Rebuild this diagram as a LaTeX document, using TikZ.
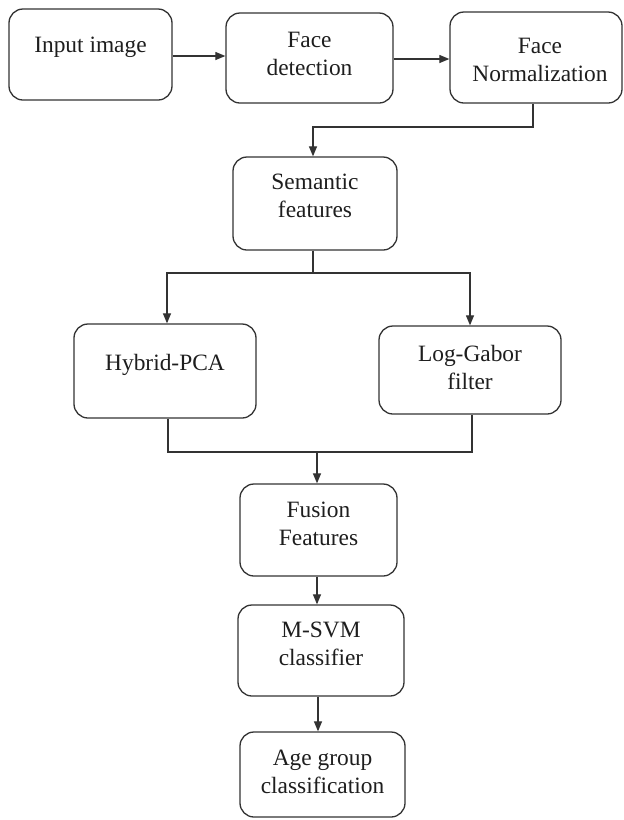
\documentclass[tikz,border=0pt]{standalone}
\usepackage{fontspec}
\setmainfont{LiberationSerif-Regular.ttf}
\newfontfamily\boxfont{LiberationSerif-Regular.ttf}
\usetikzlibrary{arrows.meta}
\definecolor{linec}{HTML}{333333}
\definecolor{textc}{HTML}{1E1E1E}
\begin{document}
\begin{tikzpicture}[x=1pt,y=-1pt,
  box/.style={draw=linec, line width=1.3pt, rounded corners=14pt, inner sep=0pt, fill=white},
  lbl/.style={font=\boxfont\fontsize{23.4}{28}\selectfont, align=center, text=textc, inner sep=0pt},
  conn/.style={draw=linec, line width=1.2pt},
  arr/.style={conn, -{Triangle[length=10pt,width=8pt]}}]
\useasboundingbox[fill=white] (0,0) rectangle (624,820);

% boxes
\node[box, minimum width=163pt, minimum height=91pt] (in)  at (90.5,54.5) {};
\node[box, minimum width=167pt, minimum height=90pt] (fd)  at (309.5,58) {};
\node[box, minimum width=172pt, minimum height=91pt] (fn)  at (536,57.5) {};
\node[box, minimum width=164pt, minimum height=93pt] (sem) at (315,203.5) {};
\node[box, minimum width=182pt, minimum height=94pt] (hy)  at (165,371) {};
\node[box, minimum width=182pt, minimum height=88pt] (lg)  at (470,370) {};
\node[box, minimum width=157pt, minimum height=92pt] (fu)  at (318.5,530) {};
\node[box, minimum width=166pt, minimum height=91pt] (ms)  at (321,650.5) {};
\node[box, minimum width=165pt, minimum height=85pt] (age) at (322.5,774.5) {};

% labels
\node[lbl] (tin)  at (90.5,47)   {Input image};
\node[lbl] (tfd)  at (309.5,53.5) {Face\\detection};
\node[lbl] (tfn)  at (540,60)    {Face\\Normalization};
\node[lbl] (tsem) at (315,196)   {Semantic\\features};
\node[lbl] (thy)  at (165,365)   {Hybrid-PCA};
\node[lbl] (tlg)  at (470,367)   {Log-Gabor\\filter};
\node[lbl] (tfu)  at (318.5,524) {Fusion\\Features};
\node[lbl] (tms)  at (321,644)   {M-SVM\\classifier};
\node[lbl] (tage) at (322.5,772) {Age group\\classification};

% connectors
\draw[arr] (in.east |- 0,56) -- (fd.west |- 0,56);
\draw[arr] (fd.east |- 0,59) -- (fn.west |- 0,59);
\coordinate (k1) at (533,127);
\coordinate (k2) at (313,127);
\draw[arr] (fn.south -| k1) -- (k1) -- (k2) -- (sem.north -| k2);

\coordinate (sp) at (313,273);
\coordinate (spl) at (167,273);
\coordinate (spr) at (470,273);
\draw[conn] (sem.south -| sp) -- (sp);
\draw[arr] (sp) -- (spl) -- (hy.north -| spl);
\draw[arr] (sp) -- (spr) -- (lg.north -| spr);

\coordinate (ml) at (168,452);
\coordinate (mr) at (472,452);
\coordinate (mc) at (317,452);
\draw[conn] (hy.south -| ml) -- (ml) -- (mr) -- (lg.south -| mr);
\draw[arr] (mc) -- (fu.north -| mc);

\coordinate (c1) at (317,0);
\coordinate (c2) at (318,0);
\draw[arr] (fu.south -| c1) -- (ms.north -| c1);
\draw[arr] (ms.south -| c2) -- (age.north -| c2);
\end{tikzpicture}
\end{document}
